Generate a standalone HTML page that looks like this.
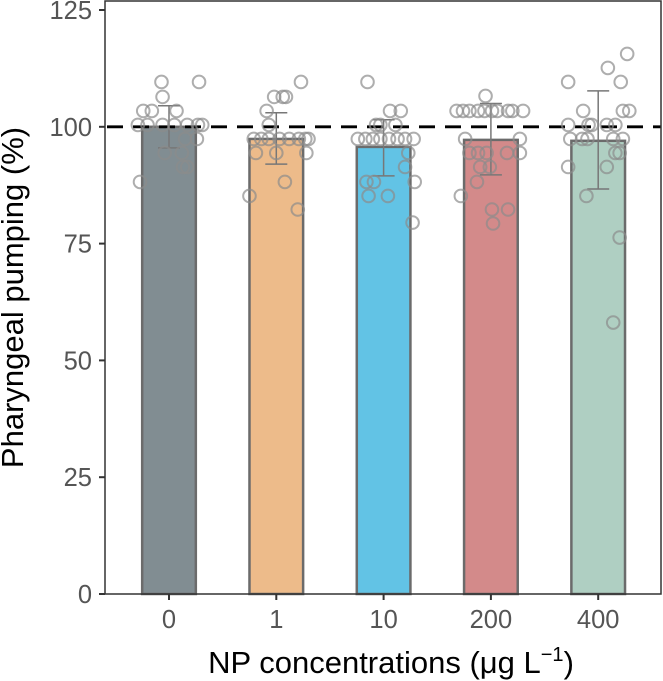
<!DOCTYPE html>
<html><head><meta charset="utf-8"><style>
html,body{margin:0;padding:0;background:#fff;width:663px;height:681px;overflow:hidden}
svg text{font-family:"Liberation Sans",sans-serif}
</style></head><body>
<svg id="chart" width="663" height="681" xmlns="http://www.w3.org/2000/svg">
<g id="bars"></g>
<g id="errs"></g>
<g id="pts"></g>
<g id="axes"></g>
</svg>
<script>
const categories = ["0","1","10","200","400"];
const means = [100, 97.4, 95.7, 97.2, 97];
const errHigh = [104.5, 103, 101.5, 105, 107.7];
const errLow = [95.5, 92, 89.5, 89.7, 86.7];
const barColors = ["#818d92","#edbb8a","#62c3e5","#d38a8a","#afcfc2"];
const yTicks = [0,25,50,75,100,125];
// points: [value, jitter (fraction of category spacing)]
const points0 = [[109.6,-0.07],[109.6,0.28],[106.4,-0.06],[103.4,-0.24],[103.4,-0.16],[103.4,0.07],[100.4,-0.29],[100.4,-0.2],[100.4,-0.06],[100.4,0.05],[100.4,0.17],[100.4,0.27],[100.4,0.31],[97.4,0.15],[97.4,0.26],[94.4,-0.04],[94.4,0.12],[91.4,0.13],[91.4,0.17],[88.2,-0.27]];
const points1 = [[109.6,0.23],[106.4,-0.02],[106.4,0.06],[106.4,0.09],[103.4,-0.09],[100.4,-0.07],[97.4,-0.21],[97.4,-0.14],[97.4,-0.07],[97.4,0.03],[97.4,0.12],[97.4,0.21],[97.4,0.27],[97.4,0.3],[94.4,-0.19],[94.4,0],[94.4,0.28],[88.2,0.08],[85.2,-0.25],[82.3,0.2]];
const points2 = [[109.6,-0.15],[103.4,0.06],[103.4,0.16],[100.4,-0.07],[100.4,-0.03],[100.4,0.11],[97.4,-0.24],[97.4,-0.17],[97.4,-0.1],[97.4,-0.03],[97.4,0.05],[97.4,0.13],[97.4,0.2],[97.4,0.28],[94.4,0.23],[91.4,0.2],[88.2,-0.16],[88.2,-0.09],[88.2,0.29],[85.2,-0.14],[85.2,0.04],[79.5,0.27]];
const points3 = [[106.6,-0.05],[103.4,-0.32],[103.4,-0.26],[103.4,-0.2],[103.4,-0.12],[103.4,-0.06],[103.4,0.01],[103.4,0.06],[103.4,0.16],[103.4,0.2],[103.4,0.3],[97.4,-0.24],[97.4,0.27],[94.4,-0.2],[94.4,-0.12],[94.4,-0.04],[94.4,0.15],[94.4,0.27],[91.4,-0.1],[91.4,-0.01],[88.2,-0.13],[85.2,-0.28],[82.3,0.01],[82.3,0.16],[79.3,0.02]];
const points4 = [[115.6,0.27],[112.6,0.09],[109.6,-0.28],[109.6,0.21],[103.4,-0.14],[103.4,0.23],[103.4,0.29],[100.4,-0.28],[100.4,-0.09],[100.4,-0.06],[100.4,0.08],[100.4,0.16],[97.4,-0.26],[97.4,-0.15],[97.4,-0.1],[97.4,0.14],[97.4,0.23],[94.4,0.16],[94.4,0.2],[91.4,-0.28],[91.4,0.08],[85.2,-0.11],[76.3,0.2],[58.1,0.14]];
const allPoints = [points0, points1, points2, points3, points4];

const NS = "http://www.w3.org/2000/svg";
const L = 105, R = 661, T = 1, B = 594;
const step = 107.3, x0 = 169;
const xs = i => x0 + i * step;
const ys = v => B - v * (584 / 125);
function mk(parent, tag, attrs, text) {
  const e = document.createElementNS(NS, tag);
  for (const k in attrs) e.setAttribute(k, attrs[k]);
  if (text !== undefined) e.textContent = text;
  parent.appendChild(e);
  return e;
}
const gB = document.getElementById("bars"), gE = document.getElementById("errs"),
      gP = document.getElementById("pts"), gA = document.getElementById("axes");
const bw = step * 0.5;
categories.forEach((c, i) => {
  const r = mk(gB, "rect", {x: xs(i) - bw/2, y: ys(means[i]), width: bw, height: B - ys(means[i]), fill: barColors[i], stroke: "#6b6b6b", "stroke-width": 2.5});
  
  
});
const ref = mk(gB, "line", {x1: L + 2, x2: R, y1: ys(100), y2: ys(100), stroke: "#000", "stroke-width": 2.8, "stroke-dasharray": "16 10"});


allPoints.forEach((arr, i) => {
  arr.forEach(p => {
    const c = mk(gP, "circle", {cx: xs(i) + p[1] * step, cy: ys(p[0]), r: 6.3, fill: "none", stroke: "#8c8c8c", "stroke-opacity": 0.7, "stroke-width": 2});
    
    
  });
});
categories.forEach((c, i) => {
  const g = mk(gE, "g", {stroke: "#777", "stroke-width": 1.5});
  
  
  const x = xs(i), w = 11;
  mk(g, "line", {x1: x, x2: x, y1: ys(errHigh[i]), y2: ys(errLow[i])});
  mk(g, "line", {x1: x - w, x2: x + w, y1: ys(errHigh[i]), y2: ys(errHigh[i])});
  mk(g, "line", {x1: x - w, x2: x + w, y1: ys(errLow[i]), y2: ys(errLow[i])});
});
const fr = mk(gA, "path", {d: `M${L},${T} H${R} V${B} H${L} Z`, fill: "none", stroke: "#333", "stroke-width": 1.5});


yTicks.forEach(t => {
  const y = ys(t);
  const tk = mk(gA, "line", {x1: L - 6, x2: L, y1: y, y2: y, stroke: "#333", "stroke-width": 2});
  
  
  const lb = mk(gA, "text", {x: L - 13, y: y + 9, "text-anchor": "end", "font-size": 25.5, fill: "#555"}, String(t));
  
  
});
categories.forEach((c, i) => {
  const x = xs(i);
  const tk = mk(gA, "line", {x1: x, x2: x, y1: B, y2: B + 6, stroke: "#333", "stroke-width": 2});
  
  
  const lb = mk(gA, "text", {x: x, y: B + 34, "text-anchor": "middle", "font-size": 25.5, fill: "#555"}, c);
  
  
});
const yt = mk(gA, "text", {x: 0, y: 0, transform: `translate(23,${(T+B)/2}) rotate(-90)`, "text-anchor": "middle", "font-size": 31, fill: "#000"}, "Pharyngeal pumping (%)");


const xt = mk(gA, "text", {x: (L+R)/2 + 8, y: 673, "text-anchor": "middle", "font-size": 31, fill: "#000"});


xt.appendChild(document.createTextNode("NP concentrations (\u03bcg L"));
mk(xt, "tspan", {"font-size": 20, dy: -12}, "\u22121");
mk(xt, "tspan", {dy: 12}, ")");
</script>
</body></html>
